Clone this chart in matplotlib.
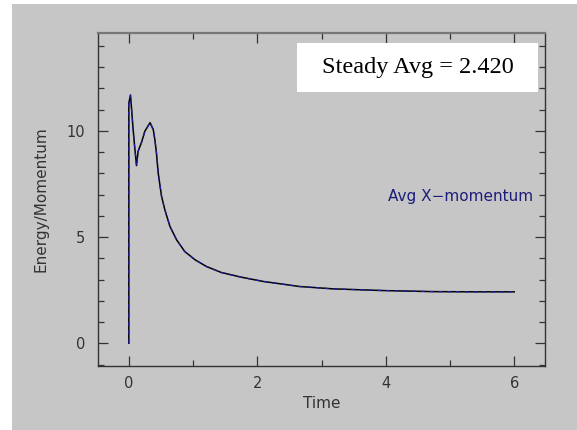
import matplotlib.pyplot as plt
from matplotlib.patches import Rectangle
from matplotlib.ticker import MultipleLocator

# Avg X-momentum
time = [0, 0, 0.026, 0.067, 0.09, 0.12, 0.145, 0.195, 0.25, 0.33, 0.38, 0.405, 0.43,
        0.457, 0.509, 0.56, 0.64, 0.743, 0.87, 1.03, 1.21, 1.44, 1.75, 2.09, 2.66,
        3.18, 3.96, 4.74, 5.4, 6.0]
momentum = [0, 11.3, 11.68, 10.06, 9.27, 8.36, 9.04, 9.43, 9.98, 10.38, 10.06, 9.59, 8.96,
            8.02, 6.92, 6.29, 5.5, 4.87, 4.32, 3.93, 3.61, 3.33, 3.11, 2.91, 2.67,
            2.56, 2.48, 2.43, 2.42, 2.42]
series_name = "Avg X\u2212momentum"
steady_text = "Steady Avg = 2.420"

gray = '#c6c6c6'
fig = plt.figure(figsize=(5.77, 4.30), dpi=100)
fig.patch.set_facecolor('white')
fig.patches.append(Rectangle((12 / 577, 0), 1, 1 - 4 / 430, transform=fig.transFigure,
                             facecolor=gray, edgecolor='none', zorder=-10))

ax = fig.add_axes([98 / 577, 64 / 430, 447 / 577, 333 / 430])
ax.set_facecolor(gray)

ax.plot(time, momentum, color='black', lw=1.1, zorder=3)
ax.plot(time, momentum, color='#1c1ca8', lw=0.9, dashes=(3, 4), zorder=4)

ax.set_xlim(-0.48, 6.48)
ax.set_ylim(-1.07, 14.6)
ax.xaxis.set_major_locator(MultipleLocator(2))
ax.xaxis.set_minor_locator(MultipleLocator(1))
ax.yaxis.set_major_locator(MultipleLocator(5))
ax.yaxis.set_minor_locator(MultipleLocator(1))
ax.tick_params(which='both', direction='in', top=True, right=True, color='#333333',
               labelcolor='#333333', labelsize=10.5)
ax.tick_params(which='major', length=7.5, width=0.9)
ax.tick_params(which='minor', length=4, width=0.9)
ax.tick_params(axis='y', pad=9)
ax.tick_params(axis='x', pad=7)
for s in ax.spines.values():
    s.set_color('#333333')
    s.set_linewidth(1.0)
ax.spines['top'].set_color('#777777')
ax.spines['top'].set_linewidth(1.6)

ax.set_xlabel("Time", fontsize=11, color='#333333', labelpad=4)
ax.set_ylabel("Energy/Momentum", fontsize=11, color='#333333', labelpad=13)

ax.text(388, 430 - 196, series_name, transform=None, fontsize=11, color='#1c1c7a', va='center')

box = Rectangle((297 / 577, 1 - 92 / 430), 241 / 577, 49 / 430, transform=fig.transFigure,
                facecolor='white', edgecolor='none', zorder=5)
fig.patches.append(box)
fig.text((297 + 241 / 2) / 577, 1 - 68 / 430, steady_text, family='Liberation Serif',
         fontsize=17.5, ha='center', va='center', color='black', zorder=6)

fig.savefig('out.png', dpi=100, facecolor=fig.get_facecolor())
